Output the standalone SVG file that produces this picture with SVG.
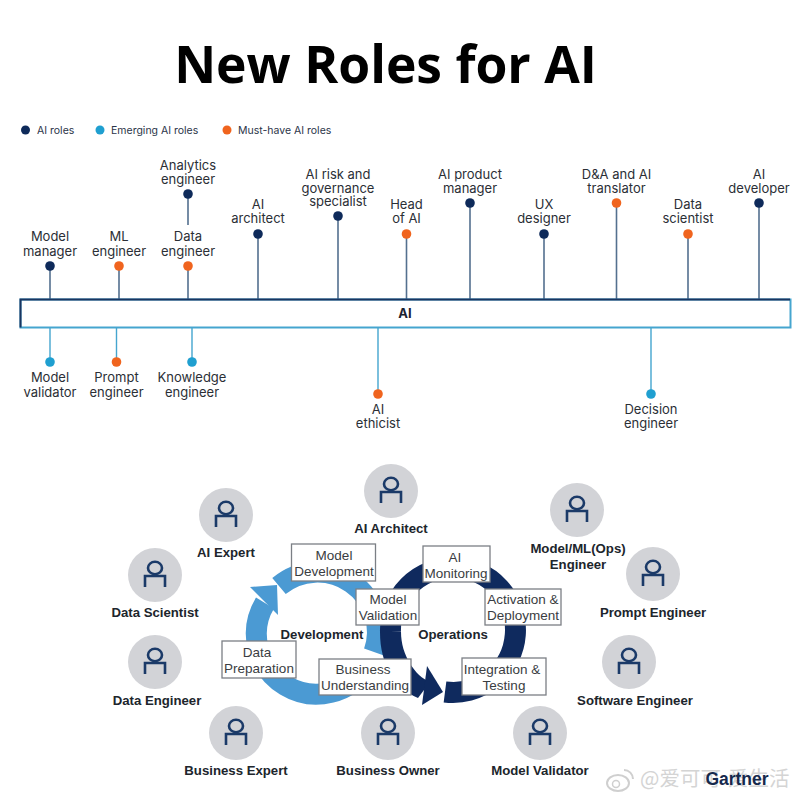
<svg xmlns="http://www.w3.org/2000/svg" width="800" height="800" viewBox="0 0 800 800">
<style>
.t{font:13px Inter,Roboto,"Liberation Sans",sans-serif;fill:#2b2f36;text-anchor:middle}
.lg{font:10.500px Inter,Roboto,"Liberation Sans",sans-serif;fill:#2b3448}
.s{stroke:#54708f;stroke-width:1.6;fill:none}
.c{stroke:#45a5cf;stroke-width:1.4;fill:none}
.n{fill:#0e2a5a}.e{fill:#1f9fd0}.o{fill:#f0641e}
.lab{font:bold 13.200px "Liberation Sans",Arial,sans-serif;fill:#20252c;text-anchor:middle}
.bx{fill:#fff;stroke:#7b7f85;stroke-width:1.3}
.bt{font:13.500px "Liberation Sans",Arial,sans-serif;fill:#3a3d42;text-anchor:middle}
.av{fill:#d2d3d7}
.pp{fill:none;stroke:#1b3a68;stroke-width:2.6}
</style>
<defs>
<g id="person"><circle class="av" r="27"/><ellipse class="pp" cy="-7" rx="7" ry="6.200"/><path class="pp" d="M-10 12V1H10V12"/></g>
</defs>
<rect width="800" height="800" fill="#fff"/>
<text x="385.500" y="83" font-family="Open Sans,Liberation Sans,sans-serif" font-weight="700" font-size="51.600" text-anchor="middle" fill="#000">New Roles for AI</text>
<g id="legend">
<circle class="n" cx="25.500" cy="130" r="4.500"/><text class="lg" x="37" y="134">AI roles</text>
<circle class="e" cx="100" cy="130" r="4.500"/><text class="lg" x="111" y="134">Emerging AI roles</text>
<circle class="o" cx="227" cy="130" r="4.500"/><text class="lg" x="238" y="134">Must-have AI roles</text>
</g>
<g id="connectors">
<path class="s" d="M50 266V300M119 266V300M188 266V300M188 194V225M258 234V300M338 216V300M406.500 234V300M470 203V300M544 234V300M616.500 203V300M688 234V300M759 203V300"/>
<path class="c" d="M50 328V362M116.500 328V362M192 328V362M378 328V394M651 328V394"/>
</g>
<g id="ai-bar"><rect x="20.500" y="299.500" width="770" height="28" fill="#fff" stroke="#45a5cf" stroke-width="2"/><path d="M20.500 327.500V299.500H790" fill="none" stroke="#1a3560" stroke-width="2"/><text x="405" y="318" font-family="Inter,Liberation Sans,sans-serif" font-weight="700" font-size="13" text-anchor="middle" fill="#1b2230">AI</text></g>
<g id="model-manager"><circle class="n" cx="50" cy="266" r="4.800"/><text class="t" x="50" y="241">Model</text><text class="t" x="50" y="256">manager</text></g>
<g id="ml-engineer"><circle class="o" cx="119" cy="266" r="4.800"/><text class="t" x="119" y="241">ML</text><text class="t" x="119" y="256">engineer</text></g>
<g id="data-engineer"><circle class="o" cx="188" cy="266" r="4.800"/><text class="t" x="188" y="241">Data</text><text class="t" x="188" y="256">engineer</text></g>
<g id="analytics-engineer"><circle class="n" cx="188" cy="194" r="4.800"/><text class="t" x="188" y="170">Analytics</text><text class="t" x="188" y="184">engineer</text></g>
<g id="ai-architect-role"><circle class="n" cx="258" cy="234" r="4.800"/><text class="t" x="258" y="209">AI</text><text class="t" x="258" y="223">architect</text></g>
<g id="ai-risk"><circle class="n" cx="338" cy="216" r="4.800"/><text class="t" x="338" y="179">AI risk and</text><text class="t" x="338" y="193">governance</text><text class="t" x="338" y="206">specialist</text></g>
<g id="head-of-ai"><circle class="o" cx="406.500" cy="234" r="4.800"/><text class="t" x="406.500" y="209">Head</text><text class="t" x="406.500" y="223">of AI</text></g>
<g id="ai-product-manager"><circle class="n" cx="470" cy="203" r="4.800"/><text class="t" x="470" y="179">AI product</text><text class="t" x="470" y="193">manager</text></g>
<g id="ux-designer"><circle class="n" cx="544" cy="234" r="4.800"/><text class="t" x="544" y="209">UX</text><text class="t" x="544" y="223">designer</text></g>
<g id="da-translator"><circle class="o" cx="616.500" cy="203" r="4.800"/><text class="t" x="616.500" y="179">D&amp;A and AI</text><text class="t" x="616.500" y="193">translator</text></g>
<g id="data-scientist-role"><circle class="o" cx="688" cy="234" r="4.800"/><text class="t" x="688" y="209">Data</text><text class="t" x="688" y="223">scientist</text></g>
<g id="ai-developer"><circle class="n" cx="759" cy="203" r="4.800"/><text class="t" x="759" y="179">AI</text><text class="t" x="759" y="193">developer</text></g>
<g id="model-validator-role"><circle class="e" cx="50" cy="362" r="4.800"/><text class="t" x="50" y="382">Model</text><text class="t" x="50" y="397">validator</text></g>
<g id="prompt-engineer-role"><circle class="o" cx="116.500" cy="362" r="4.800"/><text class="t" x="116.500" y="382">Prompt</text><text class="t" x="116.500" y="397">engineer</text></g>
<g id="knowledge-engineer"><circle class="e" cx="192" cy="362" r="4.800"/><text class="t" x="192" y="382">Knowledge</text><text class="t" x="192" y="397">engineer</text></g>
<g id="ai-ethicist"><circle class="o" cx="378" cy="394" r="4.800"/><text class="t" x="378" y="414">AI</text><text class="t" x="378" y="428">ethicist</text></g>
<g id="decision-engineer"><circle class="e" cx="651" cy="394" r="4.800"/><text class="t" x="651" y="414">Decision</text><text class="t" x="651" y="428">engineer</text></g>

<g id="cycle-rings">
<path d="M279 586A60 60 0 0 1 374 652" fill="none" stroke="#4b9ad3" stroke-width="21"/>
<path d="M368 665A60 60 0 0 1 265 603" fill="none" stroke="#4b9ad3" stroke-width="21"/>
<path d="M250 587L277 585L278 615Z" fill="#4b9ad3"/>
<path d="M445 692A62.500 62.500 0 1 0 390.500 632" fill="none" stroke="#0f2a5e" stroke-width="21"/>
<path d="M380 632C380 665 395 688 418 698L430 682C415 676 401 655 401 632Z" fill="#0f2a5e"/>
<path d="M427 666L443 692L422 705Z" fill="#0f2a5e"/>
</g>
<g id="model-development"><rect class="bx" x="291.500" y="544" width="84" height="37"/><text class="bt" x="334" y="560">Model</text><text class="bt" x="334" y="576">Development</text></g>
<g id="ai-monitoring"><rect class="bx" x="423" y="546" width="67" height="36"/><text class="bt" x="455" y="562">AI</text><text class="bt" x="456" y="578">Monitoring</text></g>
<g id="model-validation"><rect class="bx" x="356" y="589" width="63" height="36"/><text class="bt" x="388" y="604">Model</text><text class="bt" x="388" y="620">Validation</text></g>
<g id="activation"><rect class="bx" x="485" y="589" width="76" height="36"/><text class="bt" x="523" y="604">Activation &amp;</text><text class="bt" x="523" y="620">Deployment</text></g>
<g id="data-preparation"><rect class="bx" x="222" y="641" width="74" height="37"/><text class="bt" x="257" y="657">Data</text><text class="bt" x="259" y="673">Preparation</text></g>
<g id="business-understanding"><rect class="bx" x="319" y="659" width="92" height="36"/><text class="bt" x="363" y="674">Business</text><text class="bt" x="365" y="690">Understanding</text></g>
<g id="integration"><rect class="bx" x="462" y="658" width="84" height="37"/><text class="bt" x="502" y="674">Integration &amp;</text><text class="bt" x="504" y="690">Testing</text></g>
<text class="lab" x="322" y="639">Development</text>
<text class="lab" x="453" y="639">Operations</text>

<g id="p-ai-architect"><use href="#person" x="391" y="491"/><text class="lab" x="391" y="533">AI Architect</text></g>
<g id="p-ai-expert"><use href="#person" x="226" y="515"/><text class="lab" x="226" y="557">AI Expert</text></g>
<g id="p-data-scientist"><use href="#person" x="155" y="575"/><text class="lab" x="155" y="617">Data Scientist</text></g>
<g id="p-data-engineer"><use href="#person" x="155" y="662"/><text class="lab" x="157" y="705">Data Engineer</text></g>
<g id="p-business-expert"><use href="#person" x="236" y="733"/><text class="lab" x="236" y="775">Business Expert</text></g>
<g id="p-business-owner"><use href="#person" x="388" y="733"/><text class="lab" x="388" y="775">Business Owner</text></g>
<g id="p-model-validator"><use href="#person" x="540" y="733"/><text class="lab" x="540" y="775">Model Validator</text></g>
<g id="p-software-engineer"><use href="#person" x="629" y="662"/><text class="lab" x="635" y="705">Software Engineer</text></g>
<g id="p-prompt-engineer"><use href="#person" x="653" y="574"/><text class="lab" x="653" y="617">Prompt Engineer</text></g>
<g id="p-ml-ops"><use href="#person" x="577" y="510"/><text class="lab" x="578" y="553">Model/ML(Ops)</text><text class="lab" x="578" y="569">Engineer</text></g>

<g id="watermark">
<text x="640" y="786" font-family="Noto Sans CJK SC,sans-serif" font-size="20.500" fill="#d4d4d4">@爱可可-爱生活</text>
<text x="737" y="785" font-family="Liberation Sans,sans-serif" font-weight="700" font-size="17.500" text-anchor="middle" fill="#16294d">Gartner</text>
<ellipse cx="618" cy="783" rx="11" ry="8" fill="none" stroke="#cfcfcf" stroke-width="2"/>
<circle cx="616" cy="784" r="3.500" fill="none" stroke="#cfcfcf" stroke-width="1.500"/>
<path d="M624 770A9 9 0 0 1 633 779" fill="none" stroke="#cfcfcf" stroke-width="2"/>
</g>
</svg>
